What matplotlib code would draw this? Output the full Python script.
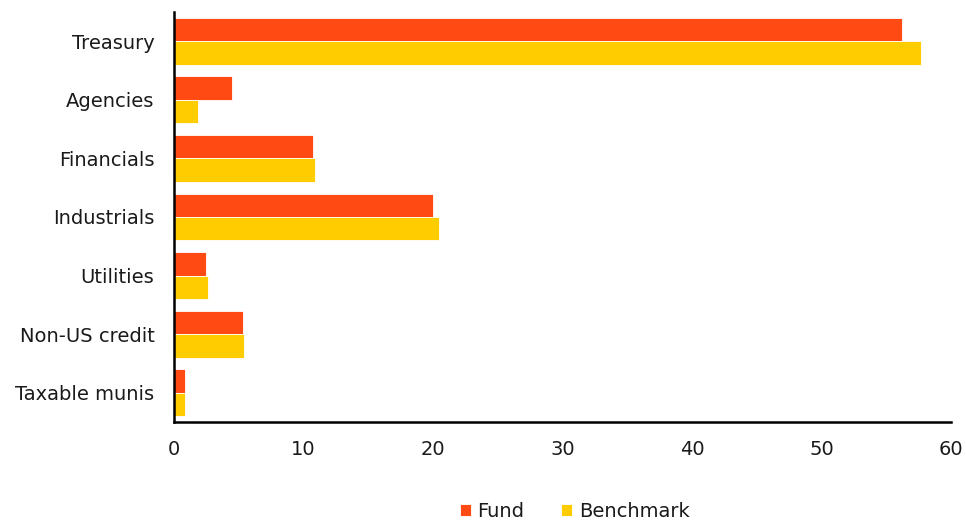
import matplotlib
matplotlib.use("Agg")
import matplotlib.pyplot as plt
import numpy as np

categories = ["Treasury", "Agencies", "Financials", "Industrials",
              "Utilities", "Non-US credit", "Taxable munis"]
fund = [56.2, 4.45, 10.75, 20.0, 2.5, 5.3, 0.85]
benchmark = [57.7, 1.85, 10.9, 20.45, 2.65, 5.45, 0.85]
x_ticks = [0, 10, 20, 30, 40, 50, 60]

FUND_COLOR = "#FF4A14"
BENCH_COLOR = "#FFCC00"

plt.rcParams["font.family"] = ["DejaVu Sans"]

fig = plt.figure(figsize=(9.66, 5.21), dpi=100)
ax = fig.add_axes([0.180, 0.190, 0.8045, 0.787])

y = np.arange(len(categories))
h = 0.4
ax.barh(y - h / 2, fund, height=h, color=FUND_COLOR, edgecolor="white",
        linewidth=0.6, label="Fund")
ax.barh(y + h / 2, benchmark, height=h, color=BENCH_COLOR, edgecolor="white",
        linewidth=0.6, label="Benchmark")

ax.set_ylim(len(categories) - 0.5, -0.5)
ax.set_xlim(0, 60)
ax.set_xticks(x_ticks)
ax.set_yticks(y)
ax.set_yticklabels(categories)
ax.tick_params(axis="both", length=0, labelsize=14, colors="#1a1a1a")
ax.tick_params(axis="x", pad=13)
ax.tick_params(axis="y", pad=14)

for side in ("top", "right"):
    ax.spines[side].set_visible(False)
for side in ("left", "bottom"):
    ax.spines[side].set_linewidth(1.8)
    ax.spines[side].set_color("black")

fig.legend(loc="center", bbox_to_anchor=(0.595, 0.019), ncol=2,
           frameon=False, fontsize=14, handlelength=0.55, handleheight=0.55,
           handletextpad=0.35, columnspacing=1.9, borderpad=0,
           labelcolor="#1a1a1a")

fig.savefig("out.png", dpi=100)
